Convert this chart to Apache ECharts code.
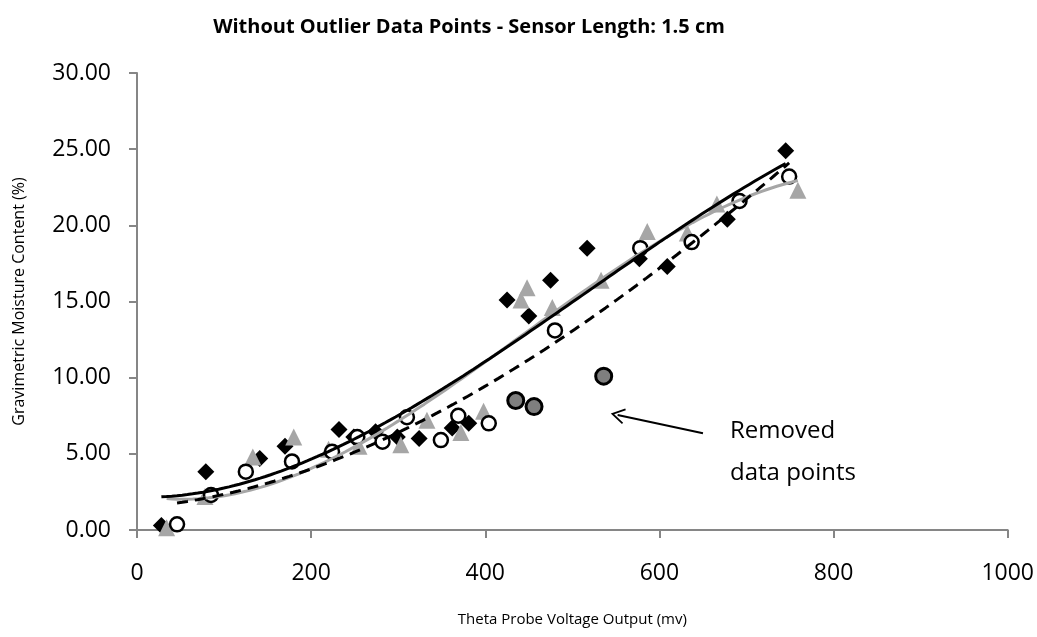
<!DOCTYPE html>
<html>
<head>
<meta charset="utf-8">
<title>Without Outlier Data Points - Sensor Length: 1.5 cm</title>
<script src="https://cdn.jsdelivr.net/npm/echarts@6/dist/echarts.min.js"></script>
<style>
  html, body { margin: 0; padding: 0; background: #fff; }
  #chart { width: 1037px; height: 637px; }
</style>
</head>
<body>
<div id="chart"></div>
<script>
// values: [voltage (mv), moisture (%)]
const diamondPoints = [
    [28, 0.3], [79, 3.83], [141, 4.7], [170, 5.5], [232, 6.6], [249, 6.1],
    [274, 6.45], [299, 6.1], [324, 6.0], [362, 6.7], [381, 7.0], [425, 15.1],
    [450, 14.05], [475, 16.4], [517, 18.5], [577, 17.8], [609, 17.3],
    [678, 20.4], [745, 24.9]
];
const trianglePoints = [
    [34, 0.15], [78, 2.2], [133, 4.8], [180, 6.1], [220, 5.3], [255, 5.5],
    [303, 5.6], [333, 7.2], [372, 6.4], [398, 7.8], [441, 15.1], [448, 15.9],
    [477, 14.6], [533, 16.4], [586, 19.6], [632, 19.5], [666, 21.4], [759, 22.3]
];
const circlePoints = [
    [46, 0.37], [85, 2.3], [125, 3.83], [178, 4.5], [224, 5.14], [253, 6.1],
    [282, 5.8], [310, 7.4], [349, 5.9], [369, 7.5], [404, 7.0], [480, 13.1],
    [578, 18.5], [637, 18.9], [692, 21.6], [749, 23.2]
];
const removedPoints = [[435, 8.5], [456, 8.1], [536, 10.1]];

const xTicks = { min: 0, max: 1000, interval: 200 };
const yTicks = { min: 0, max: 30, interval: 5 };
const annotationArrow = [[650, 6.35], [552, 7.55]];   // tail, tip

const FONT = '"Open Sans", "Noto Sans", sans-serif';

// least squares polynomial (order 3, like the excel trendline)
function polyFit(points, order) {
    let n = order + 1;
    let A = [];
    for (let i = 0; i < n; i++) {
        A.push(new Array(n + 1).fill(0));
    }
    points.forEach(p => {
        let x = p[0] / 1000, y = p[1];
        for (let r = 0; r < n; r++) {
            for (let c = 0; c < n; c++) {
                A[r][c] += Math.pow(x, r + c);
            }
            A[r][n] += y * Math.pow(x, r);
        }
    });
    // gauss elimination
    for (let i = 0; i < n; i++) {
        let piv = i;
        for (let k = i + 1; k < n; k++) {
            if (Math.abs(A[k][i]) > Math.abs(A[piv][i])) piv = k;
        }
        [A[i], A[piv]] = [A[piv], A[i]];
        for (let k = i + 1; k < n; k++) {
            let f = A[k][i] / A[i][i];
            for (let c = i; c <= n; c++) A[k][c] -= f * A[i][c];
        }
    }
    let coef = new Array(n).fill(0);
    for (let i = n - 1; i >= 0; i--) {
        let s = A[i][n];
        for (let c = i + 1; c < n; c++) s -= A[i][c] * coef[c];
        coef[i] = s / A[i][i];
    }
    return coef;
}

function trendLine(points) {
    let coef = polyFit(points, 3);
    let xs = points.map(p => p[0]);
    let x0 = Math.min(...xs), x1 = Math.max(...xs);
    let out = [];
    for (let i = 0; i <= 120; i++) {
        let x = x0 + (x1 - x0) * i / 120;
        let t = x / 1000, y = 0;
        coef.forEach((c, k) => { y += c * Math.pow(t, k); });
        out.push([x, y]);
    }
    return out;
}

let chart = echarts.init(document.getElementById('chart'));
let axisGrey = '#868686';

let option = {
    animation: false,
    backgroundColor: '#fff',
    title: {
        text: 'Without Outlier Data Points - Sensor Length: 1.5 cm',
        left: 464,
        top: 12,
        textAlign: 'center',
        textStyle: { fontFamily: FONT, fontWeight: 'bold', fontSize: 20, color: '#000' }
    },
    grid: { left: 137, right: 29, top: 73, bottom: 107, containLabel: false },
    xAxis: {
        type: 'value',
        min: xTicks.min, max: xTicks.max, interval: xTicks.interval,
        name: 'Theta Probe Voltage Output (mv)',
        nameLocation: 'middle',
        nameGap: 82,
        nameTextStyle: { fontFamily: FONT, fontSize: 15, color: '#000' },
        axisLine: { lineStyle: { color: axisGrey, width: 2 } },
        axisTick: { show: true, inside: false, length: 8, lineStyle: { color: axisGrey, width: 2 } },
        axisLabel: {
            fontFamily: FONT, fontSize: 23, color: '#000', margin: 32,
            formatter: v => String(v)
        },
        splitLine: { show: false }
    },
    yAxis: {
        type: 'value',
        min: yTicks.min, max: yTicks.max, interval: yTicks.interval,
        name: 'Gravimetric Moisture Content (%)',
        nameLocation: 'middle',
        nameGap: 110,
        nameTextStyle: { fontFamily: FONT, fontSize: 16, color: '#000' },
        axisLine: { show: true, lineStyle: { color: axisGrey, width: 2 } },
        axisTick: { show: true, inside: false, length: 8, lineStyle: { color: axisGrey, width: 2 } },
        axisLabel: {
            fontFamily: FONT, fontSize: 23, color: '#000', margin: 26,
            formatter: v => v.toFixed(2)
        },
        splitLine: { show: false }
    },
    graphic: [{
        type: 'text',
        left: 800 - 70,
        top: 410,
        style: {
            text: 'Removed\ndata points',
            width: 140,
            align: 'center',
            fontFamily: FONT,
            fontSize: 24,
            lineHeight: 42,
            fill: '#000'
        }
    }],
    series: [
        {
            name: 'diamonds',
            type: 'scatter',
            symbol: 'diamond',
            symbolSize: 17,
            itemStyle: { color: '#000', opacity: 1 },
            data: diamondPoints,
            z: 2
        },
        {
            name: 'triangles',
            type: 'scatter',
            symbol: 'triangle',
            symbolSize: 17,
            itemStyle: { color: '#a6a6a6', opacity: 1 },
            data: trianglePoints,
            z: 2
        },
        {
            name: 'circles',
            type: 'scatter',
            symbol: 'circle',
            symbolSize: 14,
            itemStyle: { color: '#fff', borderColor: '#000', borderWidth: 2.5, opacity: 1 },
            data: circlePoints,
            z: 3
        },
        {
            name: 'removed',
            type: 'scatter',
            symbol: 'circle',
            symbolSize: 16,
            itemStyle: { color: '#7f7f7f', borderColor: '#000', borderWidth: 3, opacity: 1 },
            data: removedPoints,
            z: 3,
            markLine: {
                silent: true,
                symbol: ['none', 'path://M0,0 L7,12 L5.6,12.8 L0,3.2 L-5.6,12.8 L-7,12 Z'],
                symbolSize: [16, 14],
                lineStyle: { color: '#000', width: 2, type: 'solid' },
                label: { show: false },
                data: [[{ coord: annotationArrow[0] }, { coord: annotationArrow[1] }]]
            }
        },
        {
            name: 'trend diamonds',
            type: 'line',
            showSymbol: false,
            lineStyle: { color: '#000', width: 3 },
            data: trendLine(diamondPoints),
            z: 5
        },
        {
            name: 'trend triangles',
            type: 'line',
            showSymbol: false,
            lineStyle: { color: '#a6a6a6', width: 3 },
            data: trendLine(trianglePoints),
            z: 4
        },
        {
            name: 'trend circles',
            type: 'line',
            showSymbol: false,
            lineStyle: { color: '#000', width: 3, type: [11, 7] },
            data: trendLine(circlePoints),
            z: 5
        }
    ]
};

chart.setOption(option);
window.addEventListener('resize', () => { chart.resize(); });
</script>
</body>
</html>
